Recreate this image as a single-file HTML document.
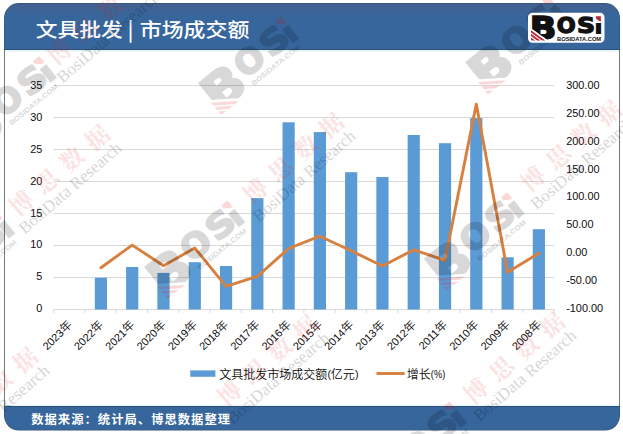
<!DOCTYPE html>
<html lang="zh-CN">
<head>
<meta charset="utf-8">
<title>文具批发 | 市场成交额</title>
<style>
html,body{margin:0;padding:0;background:#fff;}
body{width:623px;height:434px;overflow:hidden;position:relative;font-family:"Liberation Sans","Noto Sans CJK SC",sans-serif;}
svg{position:absolute;left:0;top:0;display:block;}
.num{font-family:"Liberation Sans","Noto Sans CJK SC",sans-serif;font-size:10.9px;fill:#0d0d0d;}
.yr{font-family:"Noto Sans CJK SC","Liberation Sans",sans-serif;font-size:11.6px;font-weight:350;}
</style>
</head>
<body>
<svg width="623" height="434" viewBox="0 0 623 434">

<defs>
<clipPath id="bclip"><polygon points="526.5,10.8 571.5,10.8 571.5,45.8 555.8,45.8 526.5,25.03"/></clipPath>
<clipPath id="iclip"><rect x="591" y="22.4" width="12" height="12"/></clipPath>
</defs>
<defs><linearGradient id="hg" gradientUnits="userSpaceOnUse" x1="0" y1="3" x2="0" y2="18"><stop offset="0" stop-color="#43618f"/><stop offset="1" stop-color="#36669c"/></linearGradient></defs>
<rect x="4" y="3" width="616" height="427.6" rx="15" ry="15" fill="#3b5779"/>
<rect x="4.8" y="3.9" width="614.4" height="425.8" rx="14.3" ry="14.3" fill="#36669c"/>
<path d="M4.8,49 V18.2 A14.3,14.3 0 0 1 19.1,3.9 H604.9 A14.3,14.3 0 0 1 619.2,18.2 V49 Z" fill="url(#hg)"/>
<rect x="4" y="49" width="616" height="1" fill="#2f5273"/>
<rect x="4" y="406" width="616" height="1" fill="#2f5075"/>
<rect x="4" y="50" width="616" height="356" fill="#737a7a"/>
<rect x="5" y="50" width="614" height="356" fill="#ffffff"/>
<rect x="5" y="50" width="614" height="1.5" fill="#e6f4fb"/>
<rect x="5" y="404.6" width="614" height="1.4" fill="#e9f5fb"/>
<line x1="53.6" x2="554.1" y1="309.50" y2="309.50" stroke="#d9d9d9" stroke-width="1"/>
<line x1="53.6" x2="554.1" y1="277.50" y2="277.50" stroke="#d9d9d9" stroke-width="1"/>
<line x1="53.6" x2="554.1" y1="245.50" y2="245.50" stroke="#d9d9d9" stroke-width="1"/>
<line x1="53.6" x2="554.1" y1="213.50" y2="213.50" stroke="#d9d9d9" stroke-width="1"/>
<line x1="53.6" x2="554.1" y1="181.50" y2="181.50" stroke="#d9d9d9" stroke-width="1"/>
<line x1="53.6" x2="554.1" y1="149.50" y2="149.50" stroke="#d9d9d9" stroke-width="1"/>
<line x1="53.6" x2="554.1" y1="117.50" y2="117.50" stroke="#d9d9d9" stroke-width="1"/>
<line x1="53.6" x2="554.1" y1="85.50" y2="85.50" stroke="#d9d9d9" stroke-width="1"/>
<line x1="53.60" x2="53.60" y1="309.50" y2="312.90" stroke="#d9d9d9" stroke-width="1"/>
<line x1="84.88" x2="84.88" y1="309.50" y2="312.90" stroke="#d9d9d9" stroke-width="1"/>
<line x1="116.16" x2="116.16" y1="309.50" y2="312.90" stroke="#d9d9d9" stroke-width="1"/>
<line x1="147.44" x2="147.44" y1="309.50" y2="312.90" stroke="#d9d9d9" stroke-width="1"/>
<line x1="178.72" x2="178.72" y1="309.50" y2="312.90" stroke="#d9d9d9" stroke-width="1"/>
<line x1="210.01" x2="210.01" y1="309.50" y2="312.90" stroke="#d9d9d9" stroke-width="1"/>
<line x1="241.29" x2="241.29" y1="309.50" y2="312.90" stroke="#d9d9d9" stroke-width="1"/>
<line x1="272.57" x2="272.57" y1="309.50" y2="312.90" stroke="#d9d9d9" stroke-width="1"/>
<line x1="303.85" x2="303.85" y1="309.50" y2="312.90" stroke="#d9d9d9" stroke-width="1"/>
<line x1="335.13" x2="335.13" y1="309.50" y2="312.90" stroke="#d9d9d9" stroke-width="1"/>
<line x1="366.41" x2="366.41" y1="309.50" y2="312.90" stroke="#d9d9d9" stroke-width="1"/>
<line x1="397.69" x2="397.69" y1="309.50" y2="312.90" stroke="#d9d9d9" stroke-width="1"/>
<line x1="428.98" x2="428.98" y1="309.50" y2="312.90" stroke="#d9d9d9" stroke-width="1"/>
<line x1="460.26" x2="460.26" y1="309.50" y2="312.90" stroke="#d9d9d9" stroke-width="1"/>
<line x1="491.54" x2="491.54" y1="309.50" y2="312.90" stroke="#d9d9d9" stroke-width="1"/>
<line x1="522.82" x2="522.82" y1="309.50" y2="312.90" stroke="#d9d9d9" stroke-width="1"/>
<line x1="554.10" x2="554.10" y1="309.50" y2="312.90" stroke="#d9d9d9" stroke-width="1"/>
<rect x="94.82" y="277.70" width="12.2" height="31.80" fill="#5b9bd5"/>
<rect x="126.10" y="267.00" width="12.2" height="42.50" fill="#5b9bd5"/>
<rect x="157.38" y="272.90" width="12.2" height="36.60" fill="#5b9bd5"/>
<rect x="188.67" y="262.20" width="12.2" height="47.30" fill="#5b9bd5"/>
<rect x="219.95" y="266.00" width="12.2" height="43.50" fill="#5b9bd5"/>
<rect x="251.23" y="198.10" width="12.2" height="111.40" fill="#5b9bd5"/>
<rect x="282.51" y="122.30" width="12.2" height="187.20" fill="#5b9bd5"/>
<rect x="313.79" y="132.10" width="12.2" height="177.40" fill="#5b9bd5"/>
<rect x="345.07" y="172.20" width="12.2" height="137.30" fill="#5b9bd5"/>
<rect x="376.35" y="177.00" width="12.2" height="132.50" fill="#5b9bd5"/>
<rect x="407.63" y="135.00" width="12.2" height="174.50" fill="#5b9bd5"/>
<rect x="438.92" y="143.20" width="12.2" height="166.30" fill="#5b9bd5"/>
<rect x="470.20" y="118.10" width="12.2" height="191.40" fill="#5b9bd5"/>
<rect x="501.48" y="257.30" width="12.2" height="52.20" fill="#5b9bd5"/>
<rect x="532.76" y="229.20" width="12.2" height="80.30" fill="#5b9bd5"/>
<polyline points="100.92,267.70 132.20,245.10 163.48,265.70 194.77,248.00 226.05,286.30 257.33,276.30 288.61,248.50 319.89,236.20 351.17,250.80 382.45,266.00 413.73,249.80 445.02,260.30 476.30,104.10 507.58,272.30 538.86,253.20" fill="none" stroke="#d8803f" stroke-width="2.9" stroke-linejoin="round" stroke-linecap="round"/>
<text class="num" x="42.4" y="312.20" text-anchor="end">0</text>
<text class="num" x="42.4" y="280.30" text-anchor="end">5</text>
<text class="num" x="42.4" y="248.40" text-anchor="end">10</text>
<text class="num" x="42.4" y="216.50" text-anchor="end">15</text>
<text class="num" x="42.4" y="184.60" text-anchor="end">20</text>
<text class="num" x="42.4" y="152.70" text-anchor="end">25</text>
<text class="num" x="42.4" y="120.80" text-anchor="end">30</text>
<text class="num" x="42.4" y="88.90" text-anchor="end">35</text>
<text class="num" x="566.2" y="311.70">-100.00</text>
<text class="num" x="566.2" y="283.86">-50.00</text>
<text class="num" x="566.2" y="256.02">0.00</text>
<text class="num" x="566.2" y="228.19">50.00</text>
<text class="num" x="566.2" y="200.35">100.00</text>
<text class="num" x="566.2" y="172.51">150.00</text>
<text class="num" x="566.2" y="144.68">200.00</text>
<text class="num" x="566.2" y="116.84">250.00</text>
<text class="num" x="566.2" y="89.00">300.00</text>
<text transform="translate(72.64,325.40) rotate(-45)" text-anchor="end" class="num">2023<tspan class="yr">年</tspan></text>
<text transform="translate(103.92,325.40) rotate(-45)" text-anchor="end" class="num">2022<tspan class="yr">年</tspan></text>
<text transform="translate(135.20,325.40) rotate(-45)" text-anchor="end" class="num">2021<tspan class="yr">年</tspan></text>
<text transform="translate(166.48,325.40) rotate(-45)" text-anchor="end" class="num">2020<tspan class="yr">年</tspan></text>
<text transform="translate(197.77,325.40) rotate(-45)" text-anchor="end" class="num">2019<tspan class="yr">年</tspan></text>
<text transform="translate(229.05,325.40) rotate(-45)" text-anchor="end" class="num">2018<tspan class="yr">年</tspan></text>
<text transform="translate(260.33,325.40) rotate(-45)" text-anchor="end" class="num">2017<tspan class="yr">年</tspan></text>
<text transform="translate(291.61,325.40) rotate(-45)" text-anchor="end" class="num">2016<tspan class="yr">年</tspan></text>
<text transform="translate(322.89,325.40) rotate(-45)" text-anchor="end" class="num">2015<tspan class="yr">年</tspan></text>
<text transform="translate(354.17,325.40) rotate(-45)" text-anchor="end" class="num">2014<tspan class="yr">年</tspan></text>
<text transform="translate(385.45,325.40) rotate(-45)" text-anchor="end" class="num">2013<tspan class="yr">年</tspan></text>
<text transform="translate(416.73,325.40) rotate(-45)" text-anchor="end" class="num">2012<tspan class="yr">年</tspan></text>
<text transform="translate(448.02,325.40) rotate(-45)" text-anchor="end" class="num">2011<tspan class="yr">年</tspan></text>
<text transform="translate(479.30,325.40) rotate(-45)" text-anchor="end" class="num">2010<tspan class="yr">年</tspan></text>
<text transform="translate(510.58,325.40) rotate(-45)" text-anchor="end" class="num">2009<tspan class="yr">年</tspan></text>
<text transform="translate(541.86,325.40) rotate(-45)" text-anchor="end" class="num">2008<tspan class="yr">年</tspan></text>
<rect x="190.3" y="370.4" width="25.1" height="6.4" fill="#5b9bd5"/>
<text x="219.2" y="378.6" style="font-family:'Noto Sans CJK SC','Liberation Sans',sans-serif;font-size:12px;font-weight:350;" fill="#0d0d0d">文具批发市场成交额</text>
<text transform="translate(327.5,378.3) scale(0.9,1)" style="font-family:'Liberation Sans','Noto Sans CJK SC',sans-serif;font-size:11.8px;" fill="#0d0d0d">(</text>
<text x="330.8" y="378.6" style="font-family:'Noto Sans CJK SC','Liberation Sans',sans-serif;font-size:12px;font-weight:350;" fill="#0d0d0d">亿元</text>
<text transform="translate(354.9,378.3) scale(0.9,1)" style="font-family:'Liberation Sans','Noto Sans CJK SC',sans-serif;font-size:11.8px;" fill="#0d0d0d">)</text>
<line x1="376.5" x2="404.7" y1="373.5" y2="373.5" stroke="#d8803f" stroke-width="2.9"/>
<text x="406.7" y="378.6" style="font-family:'Noto Sans CJK SC','Liberation Sans',sans-serif;font-size:12px;font-weight:350;" fill="#0d0d0d">增长</text>
<text transform="translate(430.8,378.3) scale(0.8,1)" style="font-family:'Liberation Sans','Noto Sans CJK SC',sans-serif;font-size:11.6px;" fill="#0d0d0d">(%)</text>
<text transform="translate(35.7,37.2) scale(1.02,0.93)" style="font-family:'Noto Sans CJK SC','Liberation Sans',sans-serif;font-size:21.33px;font-weight:500;" fill="#ffffff">文具批发</text>
<text transform="translate(130.4,36.6) scale(1,0.95)" style="font-family:'Noto Sans CJK SC','Liberation Sans',sans-serif;font-size:21.33px;font-weight:500;" fill="#ffffff" text-anchor="middle">|</text>
<text transform="translate(139.7,37.2) scale(1.03,0.93)" style="font-family:'Noto Sans CJK SC','Liberation Sans',sans-serif;font-size:21.33px;font-weight:500;" fill="#ffffff">市场成交额</text>
<text x="31.2" y="423.6" style="font-family:'Noto Sans CJK SC','Liberation Sans',sans-serif;font-size:12.3px;font-weight:bold;letter-spacing:1.03px;" fill="#ffffff">数据来源：统计局、博思数据整理</text>
<clipPath id="wmclip"><rect x="0" y="49.6" width="623" height="356.2"/><rect x="0" y="430.7" width="623" height="4"/><rect x="0" y="0" width="623" height="3"/></clipPath>
<g id="watermarks" pointer-events="none">
<g transform="translate(6.6,100.1) rotate(-39) scale(1.6) translate(-566,-24.75)" opacity="0.15"><g clip-path="url(#bclip)"><text transform="translate(530.19,38.62) scale(1.6783,1.5254)" style="font-family:'DejaVu Sans','Liberation Sans',sans-serif;font-weight:bold;font-size:20.0px;" fill="#000000" stroke="#000000" stroke-width="2.5600000000000005" stroke-linejoin="miter" vector-effect="non-scaling-stroke">B</text></g>
<polygon points="531.00,30.30 531.00,32.60 542.00,40.40 545.20,40.40" fill="#e00000"/>
<polygon points="531.00,33.80 531.00,36.10 537.10,40.40 540.30,40.40" fill="#e00000"/>
<polygon points="531.00,37.40 531.00,39.70 532.00,40.40 535.20,40.40" fill="#e00000"/>
<text transform="translate(556.98,32.54) scale(1.0787,1.0569)" style="font-family:'DejaVu Sans','Liberation Sans',sans-serif;font-weight:bold;font-size:20.0px;" fill="#000000" stroke="#000000" stroke-width="1.92" stroke-linejoin="miter" vector-effect="non-scaling-stroke">O</text>
<text transform="translate(577.42,32.54) scale(1.2070,1.0569)" style="font-family:'DejaVu Sans','Liberation Sans',sans-serif;font-weight:bold;font-size:20.0px;" fill="#000000" stroke="#000000" stroke-width="1.92" stroke-linejoin="miter" vector-effect="non-scaling-stroke">S</text>
<g clip-path="url(#iclip)"><text transform="translate(591.65,33.60) scale(1.4571,0.9781)" style="font-family:'DejaVu Sans','Liberation Sans',sans-serif;font-weight:bold;font-size:20.0px;" fill="#000000">i</text></g>
<polygon points="594.1,16.2 599.1,16.2 599.1,21.2 597.8,21.2 594.1,18.6" fill="#e00000"/>
<text transform="translate(558.47,39.06) scale(0.9853,0.8757)" style="font-family:'Liberation Sans',sans-serif;font-weight:bold;font-size:5.0px;" fill="#000000">BOSIDATA.COM</text></g>
<g transform="translate(248.9,60.5) rotate(-39) scale(1.6) translate(-566,-24.75)" opacity="0.15"><g clip-path="url(#bclip)"><text transform="translate(530.19,38.62) scale(1.6783,1.5254)" style="font-family:'DejaVu Sans','Liberation Sans',sans-serif;font-weight:bold;font-size:20.0px;" fill="#000000" stroke="#000000" stroke-width="2.5600000000000005" stroke-linejoin="miter" vector-effect="non-scaling-stroke">B</text></g>
<polygon points="531.00,30.30 531.00,32.60 542.00,40.40 545.20,40.40" fill="#e00000"/>
<polygon points="531.00,33.80 531.00,36.10 537.10,40.40 540.30,40.40" fill="#e00000"/>
<polygon points="531.00,37.40 531.00,39.70 532.00,40.40 535.20,40.40" fill="#e00000"/>
<text transform="translate(556.98,32.54) scale(1.0787,1.0569)" style="font-family:'DejaVu Sans','Liberation Sans',sans-serif;font-weight:bold;font-size:20.0px;" fill="#000000" stroke="#000000" stroke-width="1.92" stroke-linejoin="miter" vector-effect="non-scaling-stroke">O</text>
<text transform="translate(577.42,32.54) scale(1.2070,1.0569)" style="font-family:'DejaVu Sans','Liberation Sans',sans-serif;font-weight:bold;font-size:20.0px;" fill="#000000" stroke="#000000" stroke-width="1.92" stroke-linejoin="miter" vector-effect="non-scaling-stroke">S</text>
<g clip-path="url(#iclip)"><text transform="translate(591.65,33.60) scale(1.4571,0.9781)" style="font-family:'DejaVu Sans','Liberation Sans',sans-serif;font-weight:bold;font-size:20.0px;" fill="#000000">i</text></g>
<polygon points="594.1,16.2 599.1,16.2 599.1,21.2 597.8,21.2 594.1,18.6" fill="#e00000"/>
<text transform="translate(558.47,39.06) scale(0.9853,0.8757)" style="font-family:'Liberation Sans',sans-serif;font-weight:bold;font-size:5.0px;" fill="#000000">BOSIDATA.COM</text></g>
<g transform="translate(516.0,39.8) rotate(-39) scale(1.6) translate(-566,-24.75)" opacity="0.15"><g clip-path="url(#bclip)"><text transform="translate(530.19,38.62) scale(1.6783,1.5254)" style="font-family:'DejaVu Sans','Liberation Sans',sans-serif;font-weight:bold;font-size:20.0px;" fill="#000000" stroke="#000000" stroke-width="2.5600000000000005" stroke-linejoin="miter" vector-effect="non-scaling-stroke">B</text></g>
<polygon points="531.00,30.30 531.00,32.60 542.00,40.40 545.20,40.40" fill="#e00000"/>
<polygon points="531.00,33.80 531.00,36.10 537.10,40.40 540.30,40.40" fill="#e00000"/>
<polygon points="531.00,37.40 531.00,39.70 532.00,40.40 535.20,40.40" fill="#e00000"/>
<text transform="translate(556.98,32.54) scale(1.0787,1.0569)" style="font-family:'DejaVu Sans','Liberation Sans',sans-serif;font-weight:bold;font-size:20.0px;" fill="#000000" stroke="#000000" stroke-width="1.92" stroke-linejoin="miter" vector-effect="non-scaling-stroke">O</text>
<text transform="translate(577.42,32.54) scale(1.2070,1.0569)" style="font-family:'DejaVu Sans','Liberation Sans',sans-serif;font-weight:bold;font-size:20.0px;" fill="#000000" stroke="#000000" stroke-width="1.92" stroke-linejoin="miter" vector-effect="non-scaling-stroke">S</text>
<g clip-path="url(#iclip)"><text transform="translate(591.65,33.60) scale(1.4571,0.9781)" style="font-family:'DejaVu Sans','Liberation Sans',sans-serif;font-weight:bold;font-size:20.0px;" fill="#000000">i</text></g>
<polygon points="594.1,16.2 599.1,16.2 599.1,21.2 597.8,21.2 594.1,18.6" fill="#e00000"/>
<text transform="translate(558.47,39.06) scale(0.9853,0.8757)" style="font-family:'Liberation Sans',sans-serif;font-weight:bold;font-size:5.0px;" fill="#000000">BOSIDATA.COM</text></g>
<g transform="translate(-35.0,255.9) rotate(-39) scale(1.6) translate(-566,-24.75)" opacity="0.15"><g clip-path="url(#bclip)"><text transform="translate(530.19,38.62) scale(1.6783,1.5254)" style="font-family:'DejaVu Sans','Liberation Sans',sans-serif;font-weight:bold;font-size:20.0px;" fill="#000000" stroke="#000000" stroke-width="2.5600000000000005" stroke-linejoin="miter" vector-effect="non-scaling-stroke">B</text></g>
<polygon points="531.00,30.30 531.00,32.60 542.00,40.40 545.20,40.40" fill="#e00000"/>
<polygon points="531.00,33.80 531.00,36.10 537.10,40.40 540.30,40.40" fill="#e00000"/>
<polygon points="531.00,37.40 531.00,39.70 532.00,40.40 535.20,40.40" fill="#e00000"/>
<text transform="translate(556.98,32.54) scale(1.0787,1.0569)" style="font-family:'DejaVu Sans','Liberation Sans',sans-serif;font-weight:bold;font-size:20.0px;" fill="#000000" stroke="#000000" stroke-width="1.92" stroke-linejoin="miter" vector-effect="non-scaling-stroke">O</text>
<text transform="translate(577.42,32.54) scale(1.2070,1.0569)" style="font-family:'DejaVu Sans','Liberation Sans',sans-serif;font-weight:bold;font-size:20.0px;" fill="#000000" stroke="#000000" stroke-width="1.92" stroke-linejoin="miter" vector-effect="non-scaling-stroke">S</text>
<g clip-path="url(#iclip)"><text transform="translate(591.65,33.60) scale(1.4571,0.9781)" style="font-family:'DejaVu Sans','Liberation Sans',sans-serif;font-weight:bold;font-size:20.0px;" fill="#000000">i</text></g>
<polygon points="594.1,16.2 599.1,16.2 599.1,21.2 597.8,21.2 594.1,18.6" fill="#e00000"/>
<text transform="translate(558.47,39.06) scale(0.9853,0.8757)" style="font-family:'Liberation Sans',sans-serif;font-weight:bold;font-size:5.0px;" fill="#000000">BOSIDATA.COM</text></g>
<g transform="translate(195.0,244.5) rotate(-39) scale(1.6) translate(-566,-24.75)" opacity="0.15"><g clip-path="url(#bclip)"><text transform="translate(530.19,38.62) scale(1.6783,1.5254)" style="font-family:'DejaVu Sans','Liberation Sans',sans-serif;font-weight:bold;font-size:20.0px;" fill="#000000" stroke="#000000" stroke-width="2.5600000000000005" stroke-linejoin="miter" vector-effect="non-scaling-stroke">B</text></g>
<polygon points="531.00,30.30 531.00,32.60 542.00,40.40 545.20,40.40" fill="#e00000"/>
<polygon points="531.00,33.80 531.00,36.10 537.10,40.40 540.30,40.40" fill="#e00000"/>
<polygon points="531.00,37.40 531.00,39.70 532.00,40.40 535.20,40.40" fill="#e00000"/>
<text transform="translate(556.98,32.54) scale(1.0787,1.0569)" style="font-family:'DejaVu Sans','Liberation Sans',sans-serif;font-weight:bold;font-size:20.0px;" fill="#000000" stroke="#000000" stroke-width="1.92" stroke-linejoin="miter" vector-effect="non-scaling-stroke">O</text>
<text transform="translate(577.42,32.54) scale(1.2070,1.0569)" style="font-family:'DejaVu Sans','Liberation Sans',sans-serif;font-weight:bold;font-size:20.0px;" fill="#000000" stroke="#000000" stroke-width="1.92" stroke-linejoin="miter" vector-effect="non-scaling-stroke">S</text>
<g clip-path="url(#iclip)"><text transform="translate(591.65,33.60) scale(1.4571,0.9781)" style="font-family:'DejaVu Sans','Liberation Sans',sans-serif;font-weight:bold;font-size:20.0px;" fill="#000000">i</text></g>
<polygon points="594.1,16.2 599.1,16.2 599.1,21.2 597.8,21.2 594.1,18.6" fill="#e00000"/>
<text transform="translate(558.47,39.06) scale(0.9853,0.8757)" style="font-family:'Liberation Sans',sans-serif;font-weight:bold;font-size:5.0px;" fill="#000000">BOSIDATA.COM</text></g>
<g transform="translate(474.5,236.1) rotate(-39) scale(1.6) translate(-566,-24.75)" opacity="0.15"><g clip-path="url(#bclip)"><text transform="translate(530.19,38.62) scale(1.6783,1.5254)" style="font-family:'DejaVu Sans','Liberation Sans',sans-serif;font-weight:bold;font-size:20.0px;" fill="#000000" stroke="#000000" stroke-width="2.5600000000000005" stroke-linejoin="miter" vector-effect="non-scaling-stroke">B</text></g>
<polygon points="531.00,30.30 531.00,32.60 542.00,40.40 545.20,40.40" fill="#e00000"/>
<polygon points="531.00,33.80 531.00,36.10 537.10,40.40 540.30,40.40" fill="#e00000"/>
<polygon points="531.00,37.40 531.00,39.70 532.00,40.40 535.20,40.40" fill="#e00000"/>
<text transform="translate(556.98,32.54) scale(1.0787,1.0569)" style="font-family:'DejaVu Sans','Liberation Sans',sans-serif;font-weight:bold;font-size:20.0px;" fill="#000000" stroke="#000000" stroke-width="1.92" stroke-linejoin="miter" vector-effect="non-scaling-stroke">O</text>
<text transform="translate(577.42,32.54) scale(1.2070,1.0569)" style="font-family:'DejaVu Sans','Liberation Sans',sans-serif;font-weight:bold;font-size:20.0px;" fill="#000000" stroke="#000000" stroke-width="1.92" stroke-linejoin="miter" vector-effect="non-scaling-stroke">S</text>
<g clip-path="url(#iclip)"><text transform="translate(591.65,33.60) scale(1.4571,0.9781)" style="font-family:'DejaVu Sans','Liberation Sans',sans-serif;font-weight:bold;font-size:20.0px;" fill="#000000">i</text></g>
<polygon points="594.1,16.2 599.1,16.2 599.1,21.2 597.8,21.2 594.1,18.6" fill="#e00000"/>
<text transform="translate(558.47,39.06) scale(0.9853,0.8757)" style="font-family:'Liberation Sans',sans-serif;font-weight:bold;font-size:5.0px;" fill="#000000">BOSIDATA.COM</text></g>
<g transform="translate(417.0,445.4) rotate(-39) scale(1.6) translate(-566,-24.75)" opacity="0.15"><g clip-path="url(#bclip)"><text transform="translate(530.19,38.62) scale(1.6783,1.5254)" style="font-family:'DejaVu Sans','Liberation Sans',sans-serif;font-weight:bold;font-size:20.0px;" fill="#000000" stroke="#000000" stroke-width="2.5600000000000005" stroke-linejoin="miter" vector-effect="non-scaling-stroke">B</text></g>
<polygon points="531.00,30.30 531.00,32.60 542.00,40.40 545.20,40.40" fill="#e00000"/>
<polygon points="531.00,33.80 531.00,36.10 537.10,40.40 540.30,40.40" fill="#e00000"/>
<polygon points="531.00,37.40 531.00,39.70 532.00,40.40 535.20,40.40" fill="#e00000"/>
<text transform="translate(556.98,32.54) scale(1.0787,1.0569)" style="font-family:'DejaVu Sans','Liberation Sans',sans-serif;font-weight:bold;font-size:20.0px;" fill="#000000" stroke="#000000" stroke-width="1.92" stroke-linejoin="miter" vector-effect="non-scaling-stroke">O</text>
<text transform="translate(577.42,32.54) scale(1.2070,1.0569)" style="font-family:'DejaVu Sans','Liberation Sans',sans-serif;font-weight:bold;font-size:20.0px;" fill="#000000" stroke="#000000" stroke-width="1.92" stroke-linejoin="miter" vector-effect="non-scaling-stroke">S</text>
<g clip-path="url(#iclip)"><text transform="translate(591.65,33.60) scale(1.4571,0.9781)" style="font-family:'DejaVu Sans','Liberation Sans',sans-serif;font-weight:bold;font-size:20.0px;" fill="#000000">i</text></g>
<polygon points="594.1,16.2 599.1,16.2 599.1,21.2 597.8,21.2 594.1,18.6" fill="#e00000"/>
<text transform="translate(558.47,39.06) scale(0.9853,0.8757)" style="font-family:'Liberation Sans',sans-serif;font-weight:bold;font-size:5.0px;" fill="#000000">BOSIDATA.COM</text></g>
<g transform="translate(97.3,19.4) rotate(-41)"><text x="5" y="8.6" text-anchor="middle" style="font-family:'Noto Serif CJK SC','Noto Sans CJK SC',serif;font-weight:700;font-size:23.5px;letter-spacing:10px;" fill="#e01818" opacity="0.12">博思数据</text><text x="-3.4" y="25.9" text-anchor="middle" style="font-family:'Liberation Serif','DejaVu Serif',serif;font-size:17px;" fill="#000000" opacity="0.16">BosiData Research</text></g>
<g transform="translate(59.3,170.4) rotate(-41)"><text x="5" y="8.6" text-anchor="middle" style="font-family:'Noto Serif CJK SC','Noto Sans CJK SC',serif;font-weight:700;font-size:23.5px;letter-spacing:10px;" fill="#e01818" opacity="0.12">博思数据</text><text x="-3.4" y="25.9" text-anchor="middle" style="font-family:'Liberation Serif','DejaVu Serif',serif;font-size:17px;" fill="#000000" opacity="0.16">BosiData Research</text></g>
<g transform="translate(293.3,158.4) rotate(-41)"><text x="5" y="8.6" text-anchor="middle" style="font-family:'Noto Serif CJK SC','Noto Sans CJK SC',serif;font-weight:700;font-size:23.5px;letter-spacing:10px;" fill="#e01818" opacity="0.12">博思数据</text><text x="-3.4" y="25.9" text-anchor="middle" style="font-family:'Liberation Serif','DejaVu Serif',serif;font-size:17px;" fill="#000000" opacity="0.16">BosiData Research</text></g>
<g transform="translate(571.0,146.0) rotate(-41)"><text x="5" y="8.6" text-anchor="middle" style="font-family:'Noto Serif CJK SC','Noto Sans CJK SC',serif;font-weight:700;font-size:23.5px;letter-spacing:10px;" fill="#e01818" opacity="0.12">博思数据</text><text x="-3.4" y="25.9" text-anchor="middle" style="font-family:'Liberation Serif','DejaVu Serif',serif;font-size:17px;" fill="#000000" opacity="0.16">BosiData Research</text></g>
<g transform="translate(-12.7,392.9) rotate(-41)"><text x="5" y="8.6" text-anchor="middle" style="font-family:'Noto Serif CJK SC','Noto Sans CJK SC',serif;font-weight:700;font-size:23.5px;letter-spacing:10px;" fill="#e01818" opacity="0.12">博思数据</text><text x="-3.4" y="25.9" text-anchor="middle" style="font-family:'Liberation Serif','DejaVu Serif',serif;font-size:17px;" fill="#000000" opacity="0.16">BosiData Research</text></g>
<g transform="translate(267.3,360.4) rotate(-41)"><text x="5" y="8.6" text-anchor="middle" style="font-family:'Noto Serif CJK SC','Noto Sans CJK SC',serif;font-weight:700;font-size:23.5px;letter-spacing:10px;" fill="#e01818" opacity="0.12">博思数据</text><text x="-3.4" y="25.9" text-anchor="middle" style="font-family:'Liberation Serif','DejaVu Serif',serif;font-size:17px;" fill="#000000" opacity="0.16">BosiData Research</text></g>
<g transform="translate(514.0,358.0) rotate(-41)"><text x="5" y="8.6" text-anchor="middle" style="font-family:'Noto Serif CJK SC','Noto Sans CJK SC',serif;font-weight:700;font-size:23.5px;letter-spacing:10px;" fill="#e01818" opacity="0.12">博思数据</text><text x="-3.4" y="25.9" text-anchor="middle" style="font-family:'Liberation Serif','DejaVu Serif',serif;font-size:17px;" fill="#000000" opacity="0.16">BosiData Research</text></g>
</g>
<g id="logo">
<rect x="528" y="12.8" width="76.5" height="30" rx="4.5" ry="4.5" fill="#ffffff"/>
<g clip-path="url(#bclip)"><text transform="translate(529.63,39.05) scale(1.7500,1.5844)" style="font-family:'DejaVu Sans','Liberation Sans',sans-serif;font-weight:bold;font-size:20.0px;" fill="#111111" stroke="#111111" stroke-width="1.7" stroke-linejoin="miter" vector-effect="non-scaling-stroke">B</text></g>
<polygon points="531.00,30.30 531.00,32.60 542.00,40.40 545.20,40.40" fill="#b5283a"/>
<polygon points="531.00,33.80 531.00,36.10 537.10,40.40 540.30,40.40" fill="#b5283a"/>
<polygon points="531.00,37.40 531.00,39.70 532.00,40.40 535.20,40.40" fill="#b5283a"/>
<text transform="translate(556.69,32.79) scale(1.1133,1.0913)" style="font-family:'DejaVu Sans','Liberation Sans',sans-serif;font-weight:bold;font-size:20.0px;" fill="#111111" stroke="#111111" stroke-width="1.4" stroke-linejoin="miter" vector-effect="non-scaling-stroke">O</text>
<text transform="translate(577.10,32.79) scale(1.2522,1.0913)" style="font-family:'DejaVu Sans','Liberation Sans',sans-serif;font-weight:bold;font-size:20.0px;" fill="#111111" stroke="#111111" stroke-width="1.4" stroke-linejoin="miter" vector-effect="non-scaling-stroke">S</text>
<g clip-path="url(#iclip)"><text transform="translate(593.45,33.60) scale(1.4571,0.9781)" style="font-family:'DejaVu Sans','Liberation Sans',sans-serif;font-weight:bold;font-size:20.0px;" fill="#111111">i</text></g>
<polygon points="595.9,16.2 600.9,16.2 600.9,21.2 599.6,21.2 595.9,18.6" fill="#b5283a"/>
<text transform="translate(557.11,40.55) scale(1.1495,1.0169)" style="font-family:'Liberation Sans',sans-serif;font-weight:bold;font-size:5.0px;" fill="#111111">BOSIDATA.COM</text>
</g>
</svg>
</body>
</html>
